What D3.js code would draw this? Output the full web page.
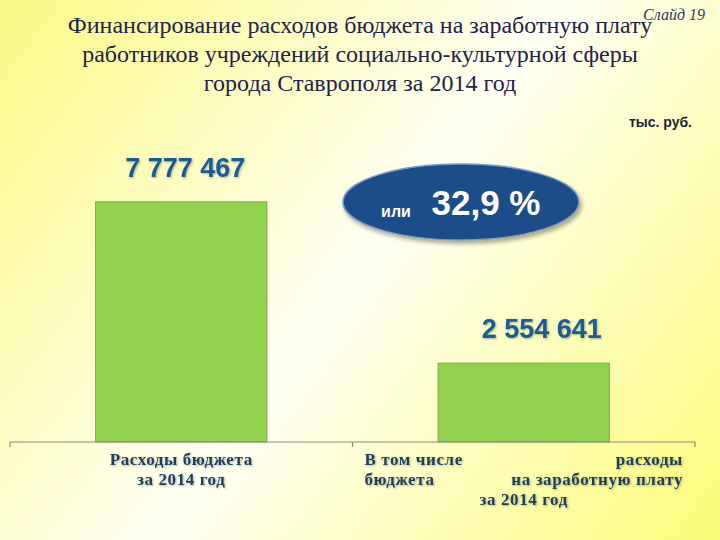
<!DOCTYPE html>
<html>
<head>
<meta charset="utf-8">
<script src="https://cdn.jsdelivr.net/npm/d3@7"></script>
<style>
  html, body { margin: 0; padding: 0; }
  body { width: 720px; height: 540px; overflow: hidden; }
</style>
</head>
<body>
<script>
// ---- data ----
const titleLines = [
  "Финансирование расходов бюджета на заработную плату",
  "работников учреждений социально-культурной сферы",
  "города Ставрополя за 2014 год"
];
const slideLabel = "Слайд 19";
const unitLabel = "тыс. руб.";
const categories = [
  "Расходы бюджета за 2014 год",
  "В том числе расходы бюджета на заработную плату за 2014 год"
];
const values = [7777467, 2554641];
const valueLabels = ["7 777 467", "2 554 641"];
const shareLabel = "32,9 %";
const shareWord = "или";

// ---- drawing ----
const W = 720, H = 540;
const svg = d3.select("body").append("svg").attr("width", W).attr("height", H);
const defs = svg.append("defs");

const bg = defs.append("linearGradient").attr("id", "bg")
  .attr("gradientUnits", "userSpaceOnUse")
  .attr("x1", 0).attr("y1", 0).attr("x2", W).attr("y2", H);
bg.append("stop").attr("offset", 0).attr("stop-color", "#fbf983");
bg.append("stop").attr("offset", 0.5).attr("stop-color", "#fffff3");
bg.append("stop").attr("offset", 1).attr("stop-color", "#fcfb78");
svg.append("rect").attr("width", W).attr("height", H).attr("fill", "url(#bg)");

const sh = defs.append("filter").attr("id", "sh").attr("x", "-20%").attr("y", "-20%").attr("width", "140%").attr("height", "150%");
sh.append("feDropShadow").attr("dx", 2).attr("dy", 3).attr("stdDeviation", 2).attr("flood-color", "#000").attr("flood-opacity", 0.35);
const tsh = defs.append("filter").attr("id", "tsh").attr("x", "-10%").attr("y", "-30%").attr("width", "120%").attr("height", "160%");
tsh.append("feDropShadow").attr("dx", 1).attr("dy", 1).attr("stdDeviation", 0.8).attr("flood-color", "#000").attr("flood-opacity", 0.3);

// title
svg.append("g").selectAll("text").data(titleLines).join("text")
  .attr("x", 360).attr("y", (d, i) => 33 + i * 29)
  .attr("text-anchor", "middle")
  .attr("font-family", "'Liberation Serif', 'Times New Roman', serif")
  .attr("font-size", 24)
  .attr("fill", "#22224a")
  .text(d => d);

svg.append("text").attr("x", 705).attr("y", 20).attr("text-anchor", "end")
  .attr("font-family", "'Liberation Serif', serif").attr("font-style", "italic")
  .attr("font-size", 16).attr("fill", "#333366").text(slideLabel);

svg.append("text").attr("x", 692).attr("y", 127).attr("text-anchor", "end")
  .attr("font-family", "'Liberation Sans', Arial, sans-serif").attr("font-weight", "bold")
  .attr("font-size", 14).attr("fill", "#1f1f40").text(unitLabel);

// scales
const x = d3.scaleBand().domain(categories).range([10, 695]).padding(0);
const y = d3.scaleLinear().domain([0, 8000000]).range([442, 195]);
const bw = x.bandwidth() * 0.5;
const barX = c => x(c) + (x.bandwidth() - bw) / 2;

// bars
svg.append("g").selectAll("rect").data(values).join("rect")
  .attr("x", (d, i) => barX(categories[i]))
  .attr("y", d => y(d))
  .attr("width", bw)
  .attr("height", d => y(0) - y(d))
  .attr("fill", "#92d050")
  .attr("stroke", "#7ba84a").attr("stroke-width", 1);

// axis
const ax = svg.append("g").attr("stroke", "#8a8a80").attr("stroke-width", 1.2).attr("fill", "none");
ax.append("line").attr("x1", x.range()[0]).attr("x2", x.range()[1]).attr("y1", y(0)).attr("y2", y(0));
const tickXs = categories.map(c => x(c)).concat([x.range()[1]]);
ax.selectAll("line.t").data(tickXs).join("line").attr("class", "t")
  .attr("x1", d => d).attr("x2", d => d).attr("y1", y(0)).attr("y2", y(0) + 5);

// value labels
const labelOffsets = [4, 18];
svg.append("g").selectAll("text").data(values).join("text")
  .attr("x", (d, i) => x(categories[i]) + x.bandwidth() / 2 + labelOffsets[i])
  .attr("y", d => y(d) - 25)
  .attr("text-anchor", "middle")
  .attr("font-family", "'Liberation Sans', Arial, sans-serif").attr("font-weight", "bold")
  .attr("font-size", 27).attr("fill", "#1b5a94")
  .attr("filter", "url(#tsh)")
  .text((d, i) => valueLabels[i]);

// ellipse callout
const eg = svg.append("g");
eg.append("ellipse").attr("cx", 461).attr("cy", 202).attr("rx", 118).attr("ry", 38)
  .attr("fill", "#1f4d88").attr("stroke", "#7f98bb").attr("stroke-width", 1.5)
  .attr("filter", "url(#sh)");
eg.append("text").attr("x", 396).attr("y", 217).attr("text-anchor", "middle")
  .attr("font-family", "'Liberation Sans', Arial, sans-serif").attr("font-weight", "bold")
  .attr("font-size", 16).attr("fill", "#ffffff").text(shareWord);
eg.append("text").attr("x", 486).attr("y", 215).attr("text-anchor", "middle")
  .attr("font-family", "'Liberation Sans', Arial, sans-serif").attr("font-weight", "bold")
  .attr("font-size", 35).attr("fill", "#ffffff").text(shareLabel);

// category labels
const catFont = "'Liberation Serif', 'Times New Roman', serif";
const cg = svg.append("g").attr("font-family", catFont).attr("font-weight", "bold")
  .attr("font-size", 17).attr("fill", "#1f3d5c").attr("filter", "url(#tsh)")
  .attr("letter-spacing", 0.6);
// category 1: centered lines
const c1 = x(categories[0]) + x.bandwidth() / 2;
const c1Words = categories[0].split(" ");
const c1Lines = [c1Words.slice(0, 2).join(" "), c1Words.slice(2).join(" ")];
cg.selectAll("text.c1").data(c1Lines).join("text").attr("class", "c1")
  .attr("x", c1).attr("y", (d, i) => 465 + i * 20)
  .attr("text-anchor", "middle").text(d => d);
// category 2: justified lines
const w2 = categories[1].split(" ");
const c2Lines = [
  [w2.slice(0, 3).join(" "), w2[3]],
  [w2[4], w2.slice(5, 8).join(" ")],
  [w2.slice(8).join(" ")]
];
const left2 = x(categories[1]) + 12, right2 = x(categories[1]) + x.bandwidth() - 12;
c2Lines.forEach((ln, i) => {
  const yy = 465 + i * 20;
  if (ln.length === 2) {
    cg.append("text").attr("x", left2).attr("y", yy).attr("text-anchor", "start").text(ln[0]);
    cg.append("text").attr("x", right2).attr("y", yy).attr("text-anchor", "end").text(ln[1]);
  } else {
    cg.append("text").attr("x", x(categories[1]) + x.bandwidth() / 2).attr("y", yy)
      .attr("text-anchor", "middle").text(ln[0]);
  }
});
</script>
</body>
</html>
